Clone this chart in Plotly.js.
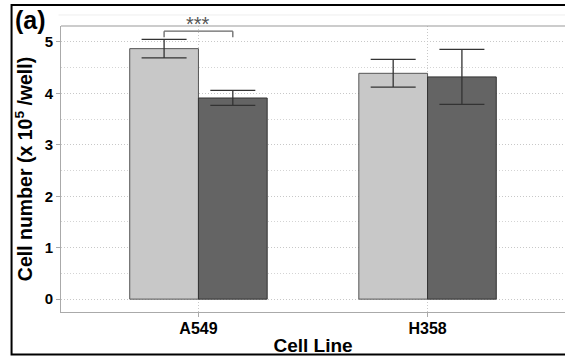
<!DOCTYPE html>
<html><head><meta charset="utf-8">
<script src="https://cdn.plot.ly/plotly-3.0.1.min.js"></script>
<style>html,body{margin:0;padding:0;background:#fff}#chart{width:565px;height:356px}</style>
</head><body><div id="chart"></div>
<script>
const categories = ["A549", "H358"];
const lightMean = [4.87, 4.39];
const lightPlus = [0.18, 0.27];
const lightMinus = [0.18, 0.27];
const darkMean = [3.91, 4.32];
const darkPlus = [0.15, 0.535];
const darkMinus = [0.145, 0.535];
const yTicks = [0, 1, 2, 3, 4, 5];
const sigBracket = {from: 0, label: "***", top: 5.21, leg: 5.09};

const F = "Liberation Sans, Arial, sans-serif";
const errStyle = {type: "data", symmetric: false, color: "#333", thickness: 1.3, width: 22.5};
const GRID = "1px,2px";

const traces = [
  {type: "bar", x: categories, y: lightMean, offsetgroup: "a",
   marker: {color: "#c8c8c8", line: {color: "#555", width: 1}},
   error_y: Object.assign({}, errStyle, {array: lightPlus, arrayminus: lightMinus}),
   hoverinfo: "skip"},
  {type: "bar", x: categories, y: darkMean, offsetgroup: "b",
   marker: {color: "#646464", line: {color: "#333", width: 1}},
   error_y: Object.assign({}, errStyle, {array: darkPlus, arrayminus: darkMinus}),
   hoverinfo: "skip"}
];

const c = sigBracket.from;
const shapes = [
  {type: "line", xref: "x", yref: "y", x0: c - 0.15, x1: c + 0.15, y0: sigBracket.top, y1: sigBracket.top, line: {color: "#666", width: 1.3}},
  {type: "line", xref: "x", yref: "y", x0: c - 0.15, x1: c - 0.15, y0: sigBracket.top, y1: sigBracket.leg, line: {color: "#666", width: 1.3}},
  {type: "line", xref: "x", yref: "y", x0: c + 0.15, x1: c + 0.15, y0: sigBracket.top, y1: sigBracket.leg, line: {color: "#666", width: 1.3}},
  {type: "line", xref: "paper", yref: "paper", x0: 0, x1: 1, y0: 1, y1: 1, line: {color: "#999", width: 1}},
  {type: "line", xref: "paper", yref: "paper", x0: -0.005, x1: 1, y0: 1.0385, y1: 1.0385, line: {color: "#eee", width: 1}},
  {type: "rect", xref: "paper", yref: "paper", x0: -0.0981, x1: 1.02, y0: -0.149, y1: 1.0735, line: {color: "#000", width: 2}}
];

const layout = {
  width: 565, height: 356,
  margin: {l: 60.5, r: 0, t: 26, b: 44.3},
  paper_bgcolor: "#fff", plot_bgcolor: "#fff",
  showlegend: false,
  barmode: "group", bargap: 0.4, bargroupgap: 0,
  font: {family: F, color: "#000"},
  xaxis: {
    type: "category", range: [-0.6, 1.6],
    showline: true, linecolor: "#aaa", linewidth: 1,
    ticks: "outside", ticklen: 4, tickcolor: "#aaa",
    showgrid: true, gridcolor: "#c8c8c8", griddash: GRID, gridwidth: 1,
    tickfont: {family: F, size: 16, weight: "bold", color: "#000"},
    ticklabelstandoff: -2,
    title: {text: "Cell Line", font: {family: F, size: 19, weight: "bold", color: "#000"}, standoff: 4},
    zeroline: false
  },
  yaxis: {
    range: [-0.25, 5.31],
    tickvals: yTicks,
    showline: true, linecolor: "#aaa", linewidth: 1,
    ticks: "outside", ticklen: 4, tickcolor: "#aaa",
    showgrid: true, gridcolor: "#c8c8c8", griddash: GRID, gridwidth: 1,
    minor: {dtick: 0.5, showgrid: true, gridcolor: "#d4d4d4", griddash: GRID, gridwidth: 1},
    zeroline: false,
    tickfont: {family: F, size: 15, weight: "bold", color: "#000"},
    title: {text: "Cell number (x 10<sup>5</sup> /well)", font: {family: F, size: 19.5, weight: "bold", color: "#000"}, standoff: 6}
  },
  shapes: shapes,
  annotations: [
    {xref: "x", yref: "y", x: c, y: sigBracket.top, text: sigBracket.label, showarrow: false, yanchor: "bottom", yshift: -6,
     font: {family: F, size: 20, color: "#555"}},
    {xref: "paper", yref: "paper", x: -0.095, y: 1.078, xanchor: "left", yanchor: "top", text: "<b>(a)</b>", showarrow: false,
     font: {family: F, size: 25, color: "#000"}}
  ]
};

Plotly.newPlot("chart", traces, layout, {displayModeBar: false, staticPlot: true});
</script></body></html>
